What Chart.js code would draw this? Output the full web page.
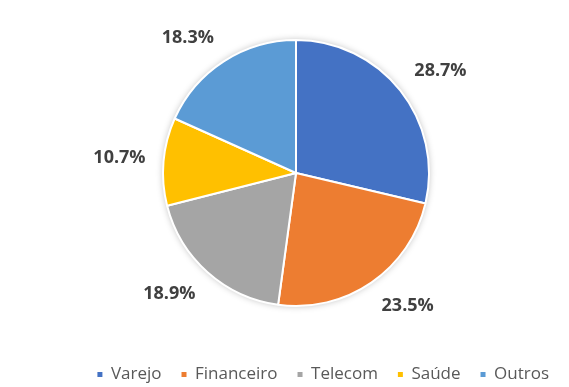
<!DOCTYPE html>
<html>
<head>
<meta charset="utf-8">
<script src="https://cdn.jsdelivr.net/npm/chart.js@4/dist/chart.umd.min.js"></script>
<style>
  html, body { margin: 0; padding: 0; background: #fff; overflow: hidden; }
  #wrap { width: 569px; height: 387px; }
</style>
</head>
<body>
<div id="wrap"><canvas id="sectorChart"></canvas></div>
<script>
const sectors = ["Varejo", "Financeiro", "Telecom", "Saúde", "Outros"];
const shares = [28.7, 23.5, 18.9, 10.7, 18.3];
const sectorColors = ["#4472C4", "#ED7D31", "#A5A5A5", "#FFC000", "#5B9BD5"];

/* soft halo behind the pie */
const pieShadow = {
  id: "pieShadow",
  beforeDatasetsDraw(chart) {
    const arc = chart.getDatasetMeta(0).data[0];
    if (!arc) return;
    const ctx = chart.ctx;
    ctx.save();
    ctx.shadowColor = "rgba(0,0,0,0.28)";
    ctx.shadowBlur = 7;
    ctx.fillStyle = "#fff";
    ctx.beginPath();
    ctx.arc(arc.x, arc.y, arc.outerRadius, 0, Math.PI * 2);
    ctx.fill();
    ctx.restore();
  }
};

/* percentage labels outside each slice: the box corner nearest the pie
   sits on a ring just outside the slice's mid angle */
const outsideLabels = {
  id: "outsideLabels",
  afterDatasetsDraw(chart) {
    const ctx = chart.ctx;
    const meta = chart.getDatasetMeta(0);
    ctx.save();
    ctx.font = "bold 18px 'Open Sans', sans-serif";
    ctx.fillStyle = "#404040";
    ctx.textAlign = "center";
    ctx.textBaseline = "middle";
    meta.data.forEach((arc, i) => {
      const txt = shares[i].toFixed(1) + "%";
      const mid = (arc.startAngle + arc.endAngle) / 2;
      const ux = Math.cos(mid), uy = Math.sin(mid);
      const hw = ctx.measureText(txt).width / 2, hh = 8;
      const d = arc.outerRadius + 18;
      const sx = Math.max(-1, Math.min(1, ux * 3));
      const sy = Math.max(-1, Math.min(1, uy * 3));
      ctx.fillText(txt, arc.x + ux * d + sx * hw, arc.y + uy * d + sy * hh);
    });
    ctx.restore();
  }
};

const baseLabels = Chart.overrides.pie.plugins.legend.labels.generateLabels;

new Chart(document.getElementById("sectorChart"), {
  type: "pie",
  data: {
    labels: sectors,
    datasets: [{
      data: shares,
      backgroundColor: sectorColors,
      borderColor: "#fff",
      borderWidth: 2
    }]
  },
  options: {
    responsive: true,
    maintainAspectRatio: false,
    animation: false,
    radius: 133,
    layout: { padding: { left: 23, right: 0, top: -7, bottom: -6 } },
    plugins: {
      tooltip: { enabled: false },
      legend: {
        position: "bottom",
        align: "end",
        labels: {
          usePointStyle: true,
          pointStyle: "rect",
          boxWidth: 5,
          boxHeight: 5,
          padding: 20,
          color: "#595959",
          font: { family: "'Open Sans', sans-serif", size: 17 },
          generateLabels(chart) {
            return baseLabels(chart).map(l => Object.assign(l, { lineWidth: 0 }));
          }
        }
      }
    }
  },
  plugins: [pieShadow, outsideLabels]
});
</script>
</body>
</html>
